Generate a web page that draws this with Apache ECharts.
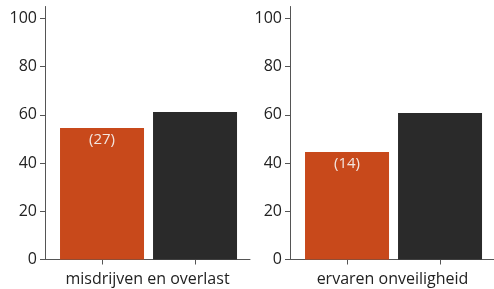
<!DOCTYPE html>
<html>
<head>
<meta charset="utf-8">
<script src="https://cdn.jsdelivr.net/npm/echarts@6/dist/echarts.min.js"></script>
<style>html,body{margin:0;padding:0;background:#fff;}#c{width:494px;height:289px;}</style>
</head>
<body>
<div id="c"></div>
<script>
const panels = ['misdrijven en overlast', 'ervaren onveiligheid'];
const orangeValues = [54.6, 44.6];
const blackValues = [61.2, 60.8];
const barLabels = ['(27)', '(14)'];
const yTicks = [0, 20, 40, 60, 80, 100];

const chart = echarts.init(document.getElementById('c'), null, {renderer: 'canvas'});
const FONT = '"Open Sans", "Noto Sans", sans-serif';
const axisColor = '#555555';
const textColor = '#222222';
const lefts = [45, 290];

const grids = [], xAxes = [], yAxes = [], series = [];
panels.forEach((name, i) => {
  grids.push({left: lefts[i], top: 6.5, width: 205, height: 253, containLabel: false, outerBoundsMode: 'none'});
  xAxes.push({
    type: 'value', gridIndex: i, min: -0.613, max: 1.591,
    name: name, nameLocation: 'middle', nameGap: 12,
    nameTextStyle: {fontFamily: FONT, fontSize: 16, color: textColor},
    splitLine: {show: false},
    axisLine: {show: true, onZero: false, lineStyle: {color: axisColor, width: 1}},
    axisTick: {show: true, length: 5, customValues: [0, 1], lineStyle: {color: axisColor}},
    axisLabel: {show: false}
  });
  yAxes.push({
    type: 'value', gridIndex: i, min: 0, max: 105,
    splitLine: {show: false},
    axisLine: {show: true, onZero: false, lineStyle: {color: axisColor, width: 1}},
    axisTick: {show: true, length: 5, customValues: yTicks, lineStyle: {color: axisColor}},
    axisLabel: {show: true, customValues: yTicks, margin: 8, fontFamily: FONT, fontSize: 16, color: textColor}
  });
  series.push({
    type: 'bar', xAxisIndex: i, yAxisIndex: i, barWidth: 84, silent: true,
    data: [
      {value: [0, orangeValues[i]], itemStyle: {color: '#c8491b'},
       label: {show: true, position: 'insideTop', distance: 4, formatter: barLabels[i],
         fontFamily: FONT, fontSize: 15, color: '#f3e6e0'}},
      {value: [1, blackValues[i]], itemStyle: {color: '#2a2a2a'}, label: {show: false}}
    ]
  });
});

chart.setOption({
  animation: false,
  grid: grids, xAxis: xAxes, yAxis: yAxes, series: series
});
</script>
</body>
</html>
